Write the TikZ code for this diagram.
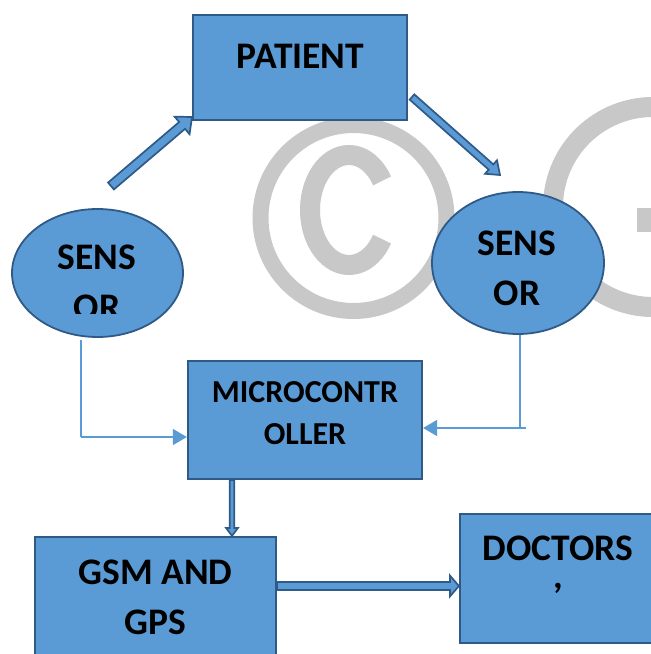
\documentclass[tikz,border=0pt]{standalone}
\usepackage{fontspec}
\setmainfont{Carlito}
\usetikzlibrary{shapes.geometric,arrows.meta,calc}

\definecolor{boxfill}{HTML}{5B9BD5}
\definecolor{boxline}{HTML}{2F5A87}
\definecolor{linkblue}{HTML}{5B9BD5}
\definecolor{wmgray}{RGB}{200,200,200}

\tikzset{
  block/.style={rectangle, draw=boxline, fill=boxfill, line width=2.2pt, inner sep=0pt},
  sensor/.style={ellipse, draw=boxline, fill=boxfill, line width=1.8pt, inner sep=0pt},
  caption/.style={font=\bfseries\fontsize{37.5}{50}\selectfont, align=center, inner sep=0pt, text=black},
  smallcaption/.style={font=\bfseries\fontsize{32}{42}\selectfont, align=center, inner sep=0pt, text=black},
  link/.style={draw=linkblue, line width=1.4pt},
  linktip/.style={-{Triangle[length=14pt,width=16pt]}},
  fatarrow/.style={draw=boxline, fill=boxfill, line width=1.7pt, line join=miter},
  watermark/.style={draw=wmgray, fill=none},
}

% block arrow: #1 tail, #2 tip, #3 shaft half width, #4 head half width, #5 head length
\newcommand\blockarrow[5]{%
  \coordinate (ba-h) at ($(#2)!#5!(#1)$);
  \draw[fatarrow] ($(#1)!#3!-90:(#2)$) -- ($(ba-h)!#3!-90:(#2)$)
    -- ($(ba-h)!#4!-90:(#2)$) -- (#2) -- ($(ba-h)!#4!90:(#2)$)
    -- ($(ba-h)!#3!90:(#2)$) -- ($(#1)!#3!90:(#2)$) -- cycle;
}

\begin{document}
\begin{tikzpicture}[x=1pt,y=-1pt]
\clip (0,0) rectangle (651,654);
\fill[white] (0,0) rectangle (651,654);

% background copyright mark
\draw[watermark, line width=16pt] (353.5,218) circle (93);
\draw[watermark, line width=20pt] ($(349,210)+(32:39 and 55)$) arc[start angle=32, end angle=328, x radius=39, y radius=55];
\draw[watermark, line width=20pt] ($(653,207)+(15:100)$) arc[start angle=15, end angle=345, radius=100];
\fill[wmgray] (637,208) rectangle (660,232);

% boxes
\node[block, minimum width=214pt, minimum height=105pt] (pat) at (300,67.5) {};
\node[block, minimum width=234pt, minimum height=118pt] (mcu) at (305,420) {};
\node[block, minimum width=241pt, minimum height=160pt] (gsm) at (155.5,617) {};
\node[block, minimum width=240pt, minimum height=129pt] (doc) at (580,578.5) {};
\node[sensor, minimum width=171pt, minimum height=128pt] (s1) at (97.5,273) {};
\node[sensor, minimum width=172pt, minimum height=142pt] (s2) at (518,263) {};

% captions
\node[caption] (pat-t) at (300.5,56) {PATIENT};
\begin{scope}
  \clip (0,0) rectangle (651,313);
  \node[caption] (s1-t) at (97,282.5) {SENS\\OR};
\end{scope}
\node[caption] (s2-t) at (517,268) {SENS\\OR};
\node[smallcaption] (mcu-t) at (305,413) {MICROCONTR\\OLLER};
\node[caption] (gsm-t) at (155.5,597.5) {GSM AND\\GPS};
\node[caption, anchor=north] (doc-t) at (558,536) {DOCTORS\\[-22pt],};

% patient to sensors
\coordinate (la) at (111,186);
\coordinate (lb) at (192,117);
\blockarrow{la}{lb}{4.5pt}{11.5pt}{13pt}
\coordinate (ra) at (412,97);
\coordinate (rb) at (500,175);
\blockarrow{ra}{rb}{3.5pt}{9pt}{12pt}

% sensors to microcontroller
\coordinate (c1) at (81,340);
\coordinate (c1b) at (81,437);
\draw[link] (c1) -- (c1b);
\draw[link, linktip] (c1b) -- (c1b -| mcu.west);
\coordinate (c2) at (520,335);
\coordinate (c2b) at (520,428);
\coordinate (c2c) at (526,428);
\draw[link] (c2) -- (c2b);
\draw[link, linktip] (c2c) -- (c2c -| mcu.east);

% microcontroller to GSM, GSM to doctors
\coordinate (dn) at (232,0);
\coordinate (d1) at (mcu.south -| dn);
\coordinate (d2) at (gsm.north -| dn);
\blockarrow{d1}{d2}{2.3pt}{6pt}{8pt}
\coordinate (hy) at (0,586);
\coordinate (h1) at (gsm.east |- hy);
\coordinate (h2) at (doc.west |- hy);
\blockarrow{h1}{h2}{4pt}{10.5pt}{9pt}
\end{tikzpicture}
\end{document}
